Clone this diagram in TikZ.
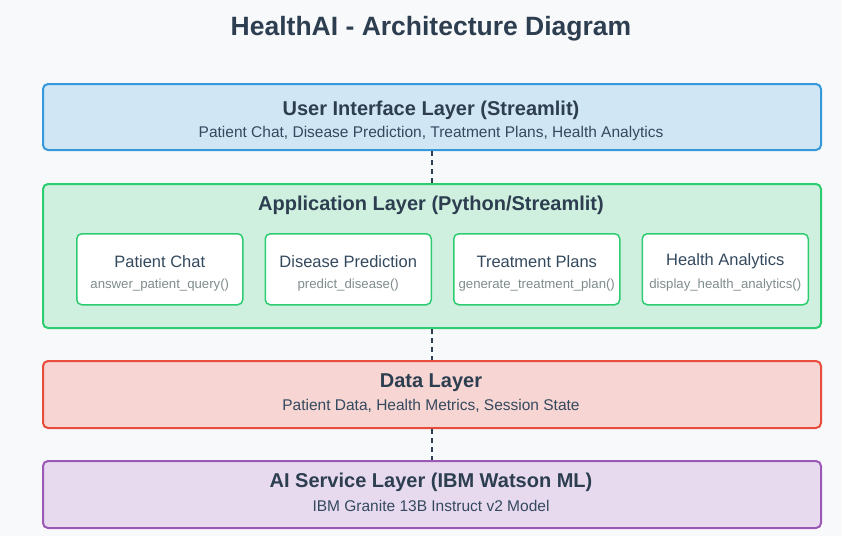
\documentclass[tikz,border=0pt]{standalone}
\usepackage{fontspec}
\setmainfont{Liberation Sans}
\definecolor{bg}{HTML}{F8F9FA}
\definecolor{dark}{HTML}{2C3E50}
\definecolor{sub}{HTML}{34495E}
\definecolor{code}{HTML}{7F8C8D}
\definecolor{uifill}{HTML}{D1E6F5}
\definecolor{uiline}{HTML}{3498DB}
\definecolor{appfill}{HTML}{D0F0DF}
\definecolor{appline}{HTML}{2ECC71}
\definecolor{datafill}{HTML}{F6D5D3}
\definecolor{dataline}{HTML}{E74C3C}
\definecolor{aifill}{HTML}{E8DAEE}
\definecolor{ailine}{HTML}{9B59B6}
\tikzset{
  layer/.style={draw=#1line, fill=#1fill, line width=2pt, rounded corners=5pt, minimum width=778pt, inner sep=0pt, anchor=north west},
  comp/.style={draw=appline, fill=white, line width=1.5pt, rounded corners=5pt, minimum width=166pt, minimum height=71pt, inner sep=0pt, anchor=north west},
  ltitle/.style={font=\fontsize{20}{22}\selectfont\bfseries, text=dark},
  lsub/.style={font=\fontsize{15.5}{17}\selectfont, text=sub},
  ctitle/.style={font=\fontsize{16.5}{18}\selectfont, text=sub},
  ccode/.style={font=\fontsize{13.2}{15}\selectfont, text=code},
  link/.style={draw=dark, line width=2pt, dash pattern=on 5pt off 4pt}
}
\begin{document}
\begin{tikzpicture}[x=1pt,y=-1pt]
\fill[bg] (0,0) rectangle (842,536);
\useasboundingbox (0,0) rectangle (842,536);
\node[font=\fontsize{26.5}{30}\selectfont\bfseries, text=dark] (title) at (431,29) {HealthAI - Architecture Diagram};
% layers
\node[layer=ui, minimum height=66pt] (ui) at (42,83) {};
\node[ltitle] (uit) at (431,110) {User Interface Layer (Streamlit)};
\node[lsub] (uis) at (431,133.5) {Patient Chat, Disease Prediction, Treatment Plans, Health Analytics};
\node[layer=app, minimum height=144pt] (app) at (42,183) {};
\node[ltitle] (appt) at (431,205) {Application Layer (Python/Streamlit)};
\node[comp] (c1) at (76,233) {};
\node[comp] (c2) at (264.5,233) {};
\node[comp] (c3) at (453,233) {};
\node[comp] (c4) at (641.5,233) {};
\node[ctitle] (c1t) at ([yshift=-28.5pt]c1.north) {Patient Chat};
\node[ccode] (c1c) at ([yshift=-52.5pt]c1.north) {answer\_patient\_query()};
\node[ctitle] (c2t) at ([yshift=-28.5pt]c2.north) {Disease Prediction};
\node[ccode] (c2c) at ([yshift=-52.5pt]c2.north) {predict\_disease()};
\node[ctitle] (c3t) at ([yshift=-28.5pt]c3.north) {Treatment Plans};
\node[ccode] (c3c) at ([yshift=-52.5pt]c3.north) {generate\_treatment\_plan()};
\node[ctitle] (c4t) at ([yshift=-28.5pt]c4.north) {Health Analytics};
\node[ccode] (c4c) at ([yshift=-52.5pt]c4.north) {display\_health\_analytics()};
\node[layer=data, minimum height=67pt] (data) at (42,360) {};
\node[ltitle] (datat) at (431,382.5) {Data Layer};
\node[lsub] (datas) at (431,405.5) {Patient Data, Health Metrics, Session State};
\node[layer=ai, minimum height=67pt] (ai) at (42,460) {};
\node[ltitle] (ait) at (431,482.5) {AI Service Layer (IBM Watson ML)};
\node[lsub] (ais) at (431,505.5) {IBM Granite 13B Instruct v2 Model};
% connectors
\draw[link] (ui.south) -- (app.north);
\draw[link] (app.south) -- (data.north);
\draw[link] (data.south) -- (ai.north);
\end{tikzpicture}
\end{document}
